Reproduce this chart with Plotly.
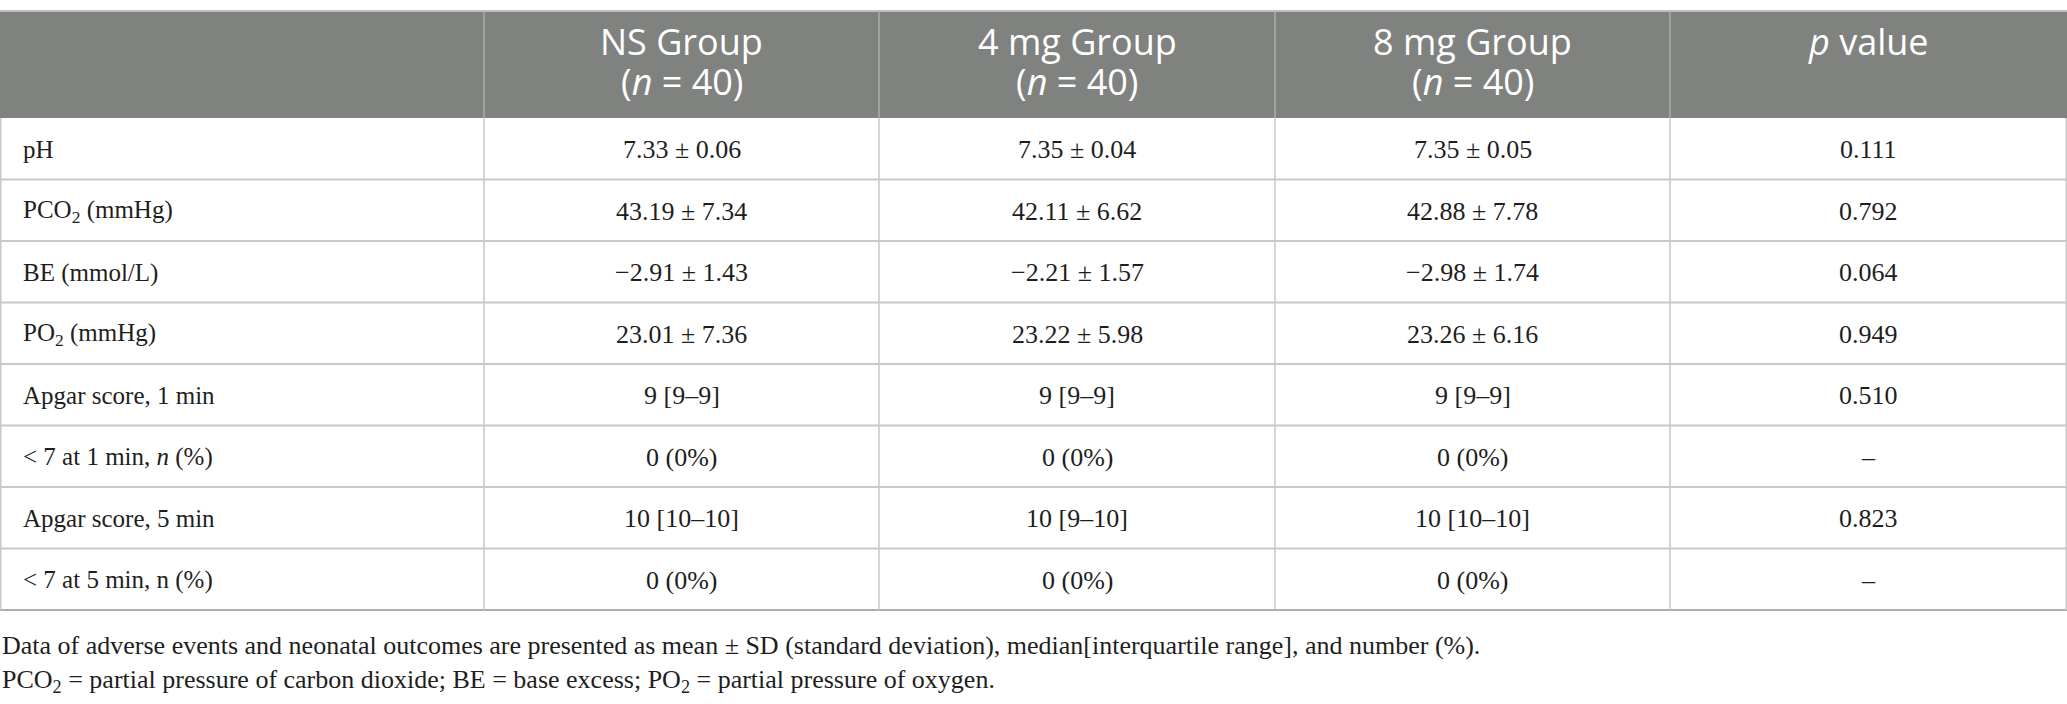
import plotly.graph_objects as go

# table content
row_labels = ["pH", "PCO<sub>2</sub> (mmHg)", "BE (mmol/L)", "PO<sub>2</sub> (mmHg)",
              "Apgar score, 1 min", "&lt; 7 at 1 min, <i>n</i> (%)",
              "Apgar score, 5 min", "&lt; 7 at 5 min, n (%)"]
ns_group = ["7.33 ± 0.06", "43.19 ± 7.34", "−2.91 ± 1.43", "23.01 ± 7.36",
            "9 [9–9]", "0 (0%)", "10 [10–10]", "0 (0%)"]
mg4_group = ["7.35 ± 0.04", "42.11 ± 6.62", "−2.21 ± 1.57", "23.22 ± 5.98",
             "9 [9–9]", "0 (0%)", "10 [9–10]", "0 (0%)"]
mg8_group = ["7.35 ± 0.05", "42.88 ± 7.78", "−2.98 ± 1.74", "23.26 ± 6.16",
             "9 [9–9]", "0 (0%)", "10 [10–10]", "0 (0%)"]
p_values = ["0.111", "0.792", "0.064", "0.949", "0.510", "–", "0.823", "–"]

header_line1 = ["", "NS Group", "4 mg Group", "8 mg Group", "<i>p</i> value"]
header_line2 = ["", "(<i>n</i> = 40)", "(<i>n</i> = 40)", "(<i>n</i> = 40)", ""]

footnotes = ["Data of adverse events and neonatal outcomes are presented as mean ± SD "
             "(standard deviation), median[interquartile range], and number (%).",
             "PCO<sub>2</sub> = partial pressure of carbon dioxide; BE = base excess; "
             "PO<sub>2</sub> = partial pressure of oxygen."]

# layout (pixel units of the 2067x704 canvas)
W, H = 2067, 704
col_edges = [0, 484, 879, 1275, 1670, 2067]
head_top, head_bot = 11, 118
row_h = 61.5
label_pad = 21

head_fill = "rgb(128,130,128)"
head_sep = "rgb(170,172,170)"
grid = "rgb(200,200,200)"
text_col = "#1e1e1e"
sans = "Open Sans, Noto Sans, sans-serif"
serif = "Liberation Serif, Times New Roman, serif"

columns = [row_labels, ns_group, mg4_group, mg8_group, p_values]
n_rows = len(row_labels)
table_bot = head_bot + row_h * n_rows

fig = go.Figure(go.Scatter(x=[], y=[], showlegend=False))

shapes = []
# header band and top rule
shapes.append(dict(type="rect", x0=0, x1=W, y0=head_top, y1=head_bot,
                   fillcolor=head_fill, line=dict(width=0), layer="below"))
shapes.append(dict(type="line", x0=0, x1=W, y0=head_top, y1=head_top,
                   line=dict(color="rgb(190,190,190)", width=2)))
for xe in col_edges[1:-1]:
    shapes.append(dict(type="line", x0=xe, x1=xe, y0=head_top, y1=head_bot,
                       line=dict(color=head_sep, width=1.5)))
# body grid
for k in range(1, n_rows + 1):
    yk = head_bot + row_h * k
    shapes.append(dict(type="line", x0=0, x1=W, y0=yk, y1=yk,
                       line=dict(color=grid if k < n_rows else "rgb(175,175,175)", width=2)))
for xe in [0.75] + col_edges[1:-1] + [W - 0.75]:
    shapes.append(dict(type="line", x0=xe, x1=xe, y0=head_bot, y1=table_bot,
                       line=dict(color=grid, width=1.5)))

annotations = []
# header texts
for j in range(1, len(col_edges) - 1):
    xc = (col_edges[j] + col_edges[j + 1]) / 2
    annotations.append(dict(x=xc, y=41, text=header_line1[j], xanchor="center",
                            yanchor="middle", font=dict(family=sans, size=36, color="white")))
    if header_line2[j]:
        annotations.append(dict(x=xc, y=81, text=header_line2[j], xanchor="center",
                                yanchor="middle", font=dict(family=sans, size=36, color="white")))
# body texts
for j, col in enumerate(columns):
    for i, txt in enumerate(col):
        yc = head_bot + row_h * (i + 0.5) + 1
        if j == 0:
            annotations.append(dict(x=label_pad, y=yc, text=txt, xanchor="left",
                                    yanchor="middle", font=dict(family=serif, size=25, color=text_col)))
        else:
            xc = (col_edges[j] + col_edges[j + 1]) / 2
            annotations.append(dict(x=xc, y=yc, text=txt, xanchor="center",
                                    yanchor="middle", font=dict(family=serif, size=26, color=text_col)))
# footnotes
for i, txt in enumerate(footnotes):
    annotations.append(dict(x=0, y=645 + 36 * i, text=txt, xanchor="left", yanchor="middle",
                            font=dict(family=serif, size=26, color=text_col)))

for a in annotations:
    a.update(xref="x", yref="y", showarrow=False)

fig.update_layout(
    width=W, height=H,
    margin=dict(l=0, r=0, t=0, b=0),
    paper_bgcolor="white", plot_bgcolor="white",
    xaxis=dict(range=[0, W], visible=False, fixedrange=True),
    yaxis=dict(range=[H, 0], visible=False, fixedrange=True),
    shapes=shapes,
    annotations=annotations,
)

# drop the browser's default page margin so the canvas sits at the window origin
fig.write_html("out.html", config={"displayModeBar": False},
               post_script="document.body.style.margin='0';document.body.style.overflow='hidden';")
